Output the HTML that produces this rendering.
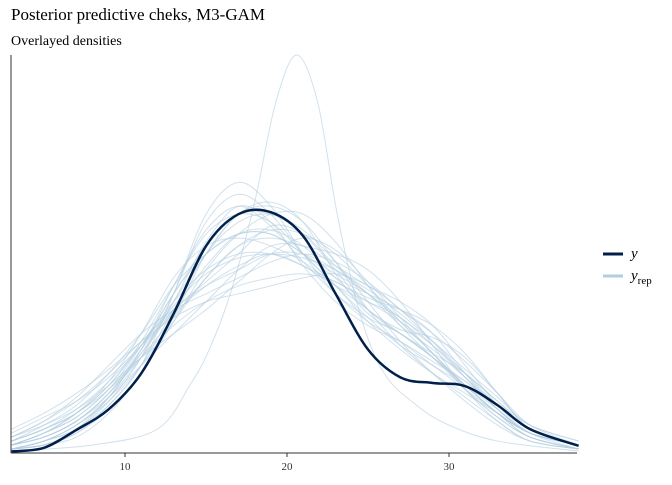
<!DOCTYPE html>
<html><head><meta charset="utf-8"><style>
body{margin:0;background:#fff;}
svg text{font-family:"Liberation Serif",serif;}
</style></head><body>
<svg id="chart" width="672" height="480">
<text x="11" y="20" font-size="17" fill="#000">Posterior predictive cheks, M3-GAM</text>
<text x="11" y="45" font-size="14" fill="#000">Overlayed densities</text>
<g id="reps"></g>
<g id="yline"></g>
<line x1="11" y1="55" x2="11" y2="453" stroke="#333" stroke-width="1"/>
<line x1="11" y1="453" x2="577" y2="453" stroke="#333" stroke-width="1"/>
<g id="xticks"></g>
<g>
<line x1="603" y1="254" x2="623" y2="254" stroke="#011f4b" stroke-width="3"/>
<text x="631" y="258" font-size="15" font-style="italic">y</text>
<line x1="603" y1="276" x2="623" y2="276" stroke="#b3cde0" stroke-width="3"/>
<text x="631" y="280" font-size="15" font-style="italic">y<tspan font-size="11" font-style="normal" dy="4">rep</tspan></text>
</g>
</svg>
<script>
const xGrid=[3,5,7,9,11,13,15,17,19,21,23,25,27,29,31,33,35,38];
const yValues=[0.004,0.013,0.058,0.11,0.2,0.35,0.52,0.6,0.605,0.545,0.4,0.26,0.19,0.176,0.168,0.12,0.06,0.018];
const repValues=[
[0.02,0.05,0.1,0.17,0.28,0.42,0.55,0.6,0.58,0.5,0.42,0.33,0.26,0.2,0.15,0.1,0.05,0.02],
[0.01,0.03,0.07,0.14,0.24,0.38,0.5,0.6,0.63,0.58,0.45,0.35,0.3,0.24,0.16,0.09,0.04,0.01],
[0.03,0.07,0.12,0.2,0.3,0.42,0.5,0.55,0.55,0.5,0.45,0.4,0.33,0.25,0.16,0.09,0.04,0.01],
[0.01,0.02,0.05,0.12,0.22,0.4,0.6,0.68,0.62,0.5,0.4,0.33,0.28,0.22,0.16,0.1,0.05,0.02],
[0.02,0.04,0.08,0.15,0.26,0.36,0.43,0.5,0.57,0.55,0.47,0.4,0.32,0.26,0.19,0.12,0.06,0.02],
[0.03,0.06,0.1,0.16,0.24,0.32,0.38,0.42,0.44,0.45,0.43,0.38,0.33,0.27,0.2,0.13,0.07,0.03],
[0.01,0.03,0.06,0.12,0.22,0.36,0.5,0.58,0.6,0.56,0.48,0.38,0.28,0.2,0.13,0.07,0.03,0.01],
[0.02,0.05,0.09,0.16,0.27,0.4,0.52,0.6,0.6,0.55,0.46,0.36,0.3,0.25,0.2,0.13,0.06,0.02],
[0.01,0.02,0.04,0.1,0.2,0.33,0.46,0.55,0.6,0.6,0.53,0.42,0.32,0.24,0.17,0.1,0.04,0.01],
[0.04,0.08,0.13,0.2,0.28,0.36,0.42,0.46,0.5,0.5,0.46,0.4,0.34,0.28,0.21,0.14,0.07,0.03],
[0.01,0.03,0.07,0.14,0.26,0.42,0.56,0.62,0.57,0.48,0.4,0.34,0.3,0.24,0.17,0.1,0.04,0.01],
[0.02,0.04,0.08,0.15,0.24,0.34,0.44,0.52,0.56,0.55,0.5,0.42,0.33,0.25,0.17,0.1,0.05,0.02],
[0.01,0.03,0.06,0.13,0.24,0.4,0.58,0.65,0.6,0.5,0.42,0.34,0.27,0.22,0.17,0.11,0.05,0.02],
[0.02,0.05,0.1,0.18,0.3,0.44,0.52,0.54,0.52,0.48,0.42,0.36,0.3,0.24,0.18,0.12,0.06,0.02],
[0.01,0.02,0.05,0.11,0.2,0.34,0.5,0.6,0.62,0.58,0.48,0.36,0.27,0.2,0.14,0.08,0.03,0.01],
[0.03,0.06,0.11,0.18,0.27,0.37,0.45,0.49,0.5,0.49,0.46,0.41,0.35,0.28,0.2,0.12,0.06,0.02],
[0.06,0.1,0.15,0.21,0.28,0.34,0.38,0.4,0.42,0.44,0.45,0.42,0.36,0.28,0.19,0.11,0.05,0.02],
[0.02,0.04,0.08,0.14,0.22,0.3,0.38,0.46,0.52,0.52,0.47,0.42,0.38,0.32,0.22,0.12,0.05,0.01],
[0.04,0.08,0.14,0.22,0.3,0.36,0.4,0.44,0.48,0.5,0.48,0.43,0.36,0.3,0.23,0.15,0.07,0.02],
[0.01,0.02,0.06,0.14,0.26,0.4,0.5,0.55,0.55,0.5,0.44,0.4,0.36,0.3,0.2,0.11,0.05,0.02],
[0.05,0.09,0.13,0.19,0.27,0.35,0.42,0.47,0.5,0.47,0.42,0.38,0.34,0.27,0.19,0.11,0.05,0.02],
[0.02,0.05,0.09,0.16,0.25,0.36,0.47,0.55,0.56,0.52,0.44,0.36,0.31,0.29,0.24,0.15,0.06,0.02],
[0.01,0.03,0.07,0.13,0.22,0.33,0.44,0.52,0.54,0.52,0.5,0.46,0.38,0.27,0.16,0.08,0.03,0.01],
[0.03,0.06,0.1,0.17,0.27,0.38,0.46,0.5,0.5,0.47,0.43,0.39,0.36,0.32,0.25,0.15,0.06,0.02],
[0.02,0.04,0.08,0.15,0.25,0.38,0.53,0.62,0.58,0.47,0.38,0.32,0.28,0.23,0.18,0.12,0.06,0.02],
[0.04,0.07,0.11,0.17,0.24,0.3,0.36,0.43,0.5,0.54,0.51,0.43,0.34,0.25,0.17,0.1,0.05,0.02]
];
const spikeX=[3,8,12,14,15.2,16.5,18,19.3,20.6,21.9,23.1,24.5,26,28,30,33,38];
const spikeValues=[0.005,0.02,0.06,0.17,0.26,0.4,0.63,0.88,1.0,0.88,0.6,0.35,0.2,0.12,0.07,0.03,0.005];
const xTicks=[10,20,30];
const sx=v=>125+(v-10)*16.2;
const sy=v=>453-v*398;
function path(xs,ys){
  const p=xs.map((x,i)=>[sx(x),sy(ys[i])]);
  let d=`M${p[0][0]},${p[0][1]}`;
  for(let i=0;i<p.length-1;i++){
    const p0=p[i-1]||p[i],p1=p[i],p2=p[i+1],p3=p[i+2]||p2;
    d+=` C${p1[0]+(p2[0]-p0[0])/6},${p1[1]+(p2[1]-p0[1])/6} ${p2[0]-(p3[0]-p1[0])/6},${p2[1]-(p3[1]-p1[1])/6} ${p2[0]},${p2[1]}`;
  }
  return d;
}
const NS="http://www.w3.org/2000/svg";
const reps=document.getElementById('reps');
function addRep(d){
  const el=document.createElementNS(NS,'path');
  el.setAttribute('d',d);el.setAttribute('fill','none');
  el.setAttribute('stroke','#b3cde0');el.setAttribute('stroke-width','1');el.setAttribute('opacity','0.6');
  
  
  reps.appendChild(el);
}
repValues.forEach(r=>addRep(path(xGrid,r)));
addRep(path(spikeX,spikeValues));
const yl=document.createElementNS(NS,'path');
yl.setAttribute('d',path(xGrid,yValues));yl.setAttribute('fill','none');
yl.setAttribute('stroke','#011f4b');yl.setAttribute('stroke-width','2.5');


document.getElementById('yline').appendChild(yl);
const xt=document.getElementById('xticks');
xTicks.forEach(t=>{
  const ln=document.createElementNS(NS,'line');
  ln.setAttribute('x1',sx(t));ln.setAttribute('x2',sx(t));ln.setAttribute('y1',453);ln.setAttribute('y2',457);ln.setAttribute('stroke','#333');
  
  
  xt.appendChild(ln);
  const tx=document.createElementNS(NS,'text');
  tx.setAttribute('x',sx(t));tx.setAttribute('y',470);tx.setAttribute('text-anchor','middle');tx.setAttribute('font-size','11');tx.setAttribute('fill','#333');
  tx.textContent=t;
  
  
  xt.appendChild(tx);
});
</script>
</body></html>
